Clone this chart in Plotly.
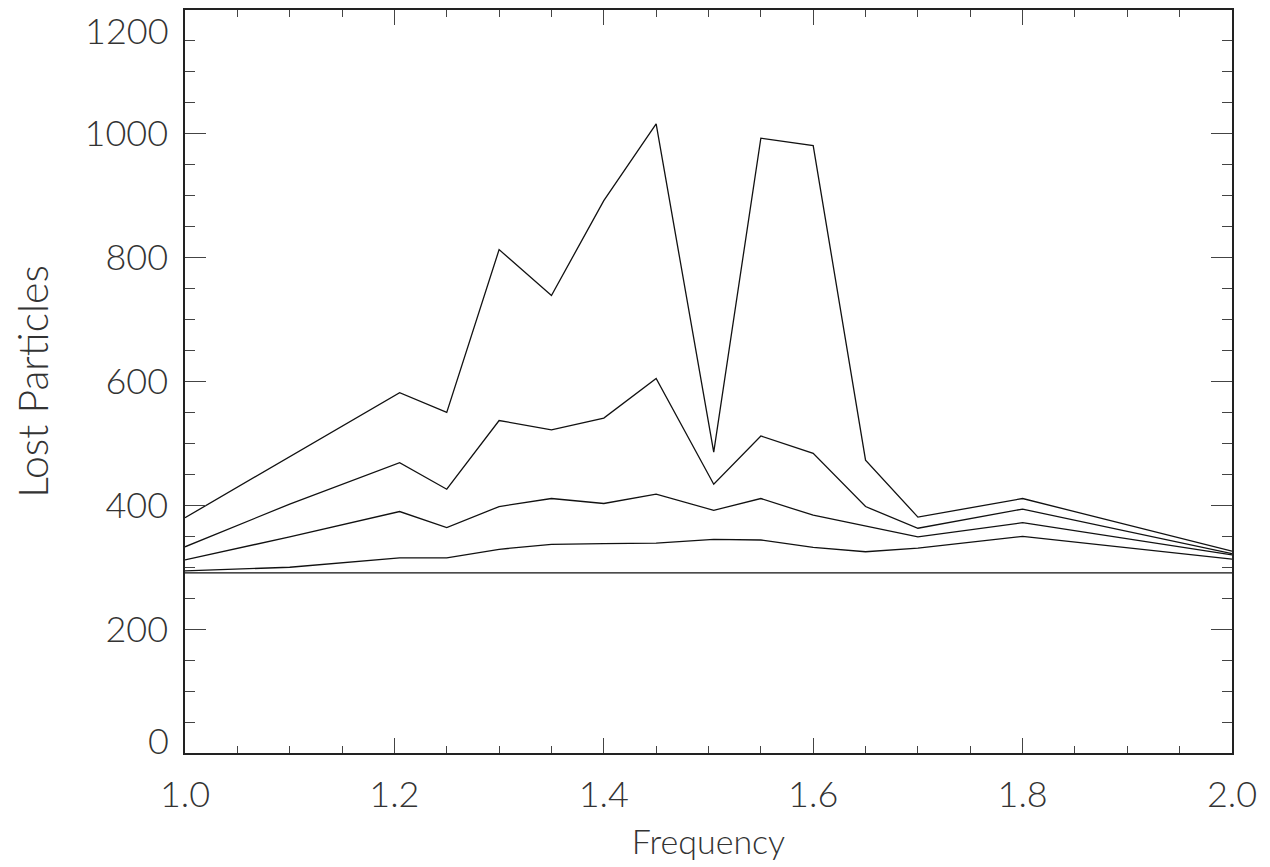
import plotly.graph_objects as go

frequency = [1.0, 1.1, 1.205, 1.25, 1.3, 1.35, 1.4, 1.45, 1.505, 1.55, 1.6, 1.65, 1.7, 1.8, 2.0]
lost_a = [380, 478, 582, 550, 813, 739, 892, 1016, 486, 993, 981, 473, 381, 411, 326]
lost_b = [333, 402, 469, 426, 537, 522, 541, 605, 434, 512, 484, 398, 363, 394, 322]
lost_c = [312, 349, 390, 364, 398, 411, 403, 418, 392, 411, 384, 367, 349, 372, 320]
lost_d = [294, 300, 315, 315, 329, 337, 338, 339, 345, 344, 332, 325, 331, 350, 313]
base_x = [1.0, 2.0]
base_y = [291, 291]

x_ticks = [1.0, 1.2, 1.4, 1.6, 1.8, 2.0]
x_tick_text = ["1.0", "1.2", "1.4", "1.6", "1.8", "2.0"]
y_ticks = [0, 200, 400, 600, 800, 1000, 1200]
y_tick_text = ["0", "200", "400", "600", "800", "1000", "1200"]

FONT = "Lato, Roboto, DejaVu Sans, sans-serif"
TXT = "#333333"
LINE = dict(color="#111111", width=1.3)

fig = go.Figure()
for ys in (lost_a, lost_b, lost_c, lost_d):
    fig.add_trace(go.Scatter(x=frequency, y=ys, mode="lines", line=LINE,
                             showlegend=False, hoverinfo="x+y"))
fig.add_trace(go.Scatter(x=base_x, y=base_y, mode="lines", line=LINE,
                         showlegend=False, hoverinfo="x+y"))

# y tick labels: the end labels (0 and 1200) are nudged inside the frame
inner_text = [t if v not in (y_ticks[0], y_ticks[-1]) else "" for v, t in zip(y_ticks, y_tick_text)]
annotations = []
for v, t, shift in ((y_ticks[0], y_tick_text[0], 13), (y_ticks[-1], y_tick_text[-1], -20)):
    annotations.append(dict(x=0, xref="paper", y=v, yref="y", text=t, showarrow=False,
                            xanchor="right", yanchor="middle", xshift=-14, yshift=shift,
                            font=dict(size=36, family=FONT, color=TXT, weight=300)))

fig.update_layout(
    width=1270, height=867,
    margin=dict(l=176.5, r=46.3, t=0.3, b=121.7),
    paper_bgcolor="white", plot_bgcolor="white",
    font=dict(family=FONT, color=TXT, weight=300),
    showlegend=False,
    annotations=annotations,
)
fig.update_xaxes(
    range=[1.0, 2.0], showgrid=False, zeroline=False,
    showline=True, linecolor="#222222", linewidth=1.5, mirror="ticks",
    ticks="inside", ticklen=15, tickwidth=1.3, tickcolor="#444444",
    tickvals=x_ticks, ticktext=x_tick_text,
    tickfont=dict(size=36, family=FONT, color=TXT, weight=300),
    ticklabelstandoff=9, ticklabeloverflow="allow",
    minor=dict(dtick=0.05, ticks="inside", ticklen=7, tickwidth=1.3,
               tickcolor="#444444", showgrid=False),
    title=dict(text="Frequency", font=dict(size=34, family=FONT, color=TXT, weight=300),
               standoff=16),
)
fig.update_yaxes(
    range=[0, 1200], showgrid=False, zeroline=False,
    showline=True, linecolor="#222222", linewidth=1.5, mirror="ticks",
    ticks="inside", ticklen=21, tickwidth=1.3, tickcolor="#444444",
    tickvals=y_ticks, ticktext=inner_text,
    tickfont=dict(size=36, family=FONT, color=TXT, weight=300),
    ticklabelstandoff=8, ticklabeloverflow="allow",
    minor=dict(dtick=50, ticks="inside", ticklen=10, tickwidth=1.3,
               tickcolor="#444444", showgrid=False),
    title=dict(text="Lost Particles", font=dict(size=41, family=FONT, color=TXT, weight=300),
               standoff=44),
)

fig.write_html("out.html")
